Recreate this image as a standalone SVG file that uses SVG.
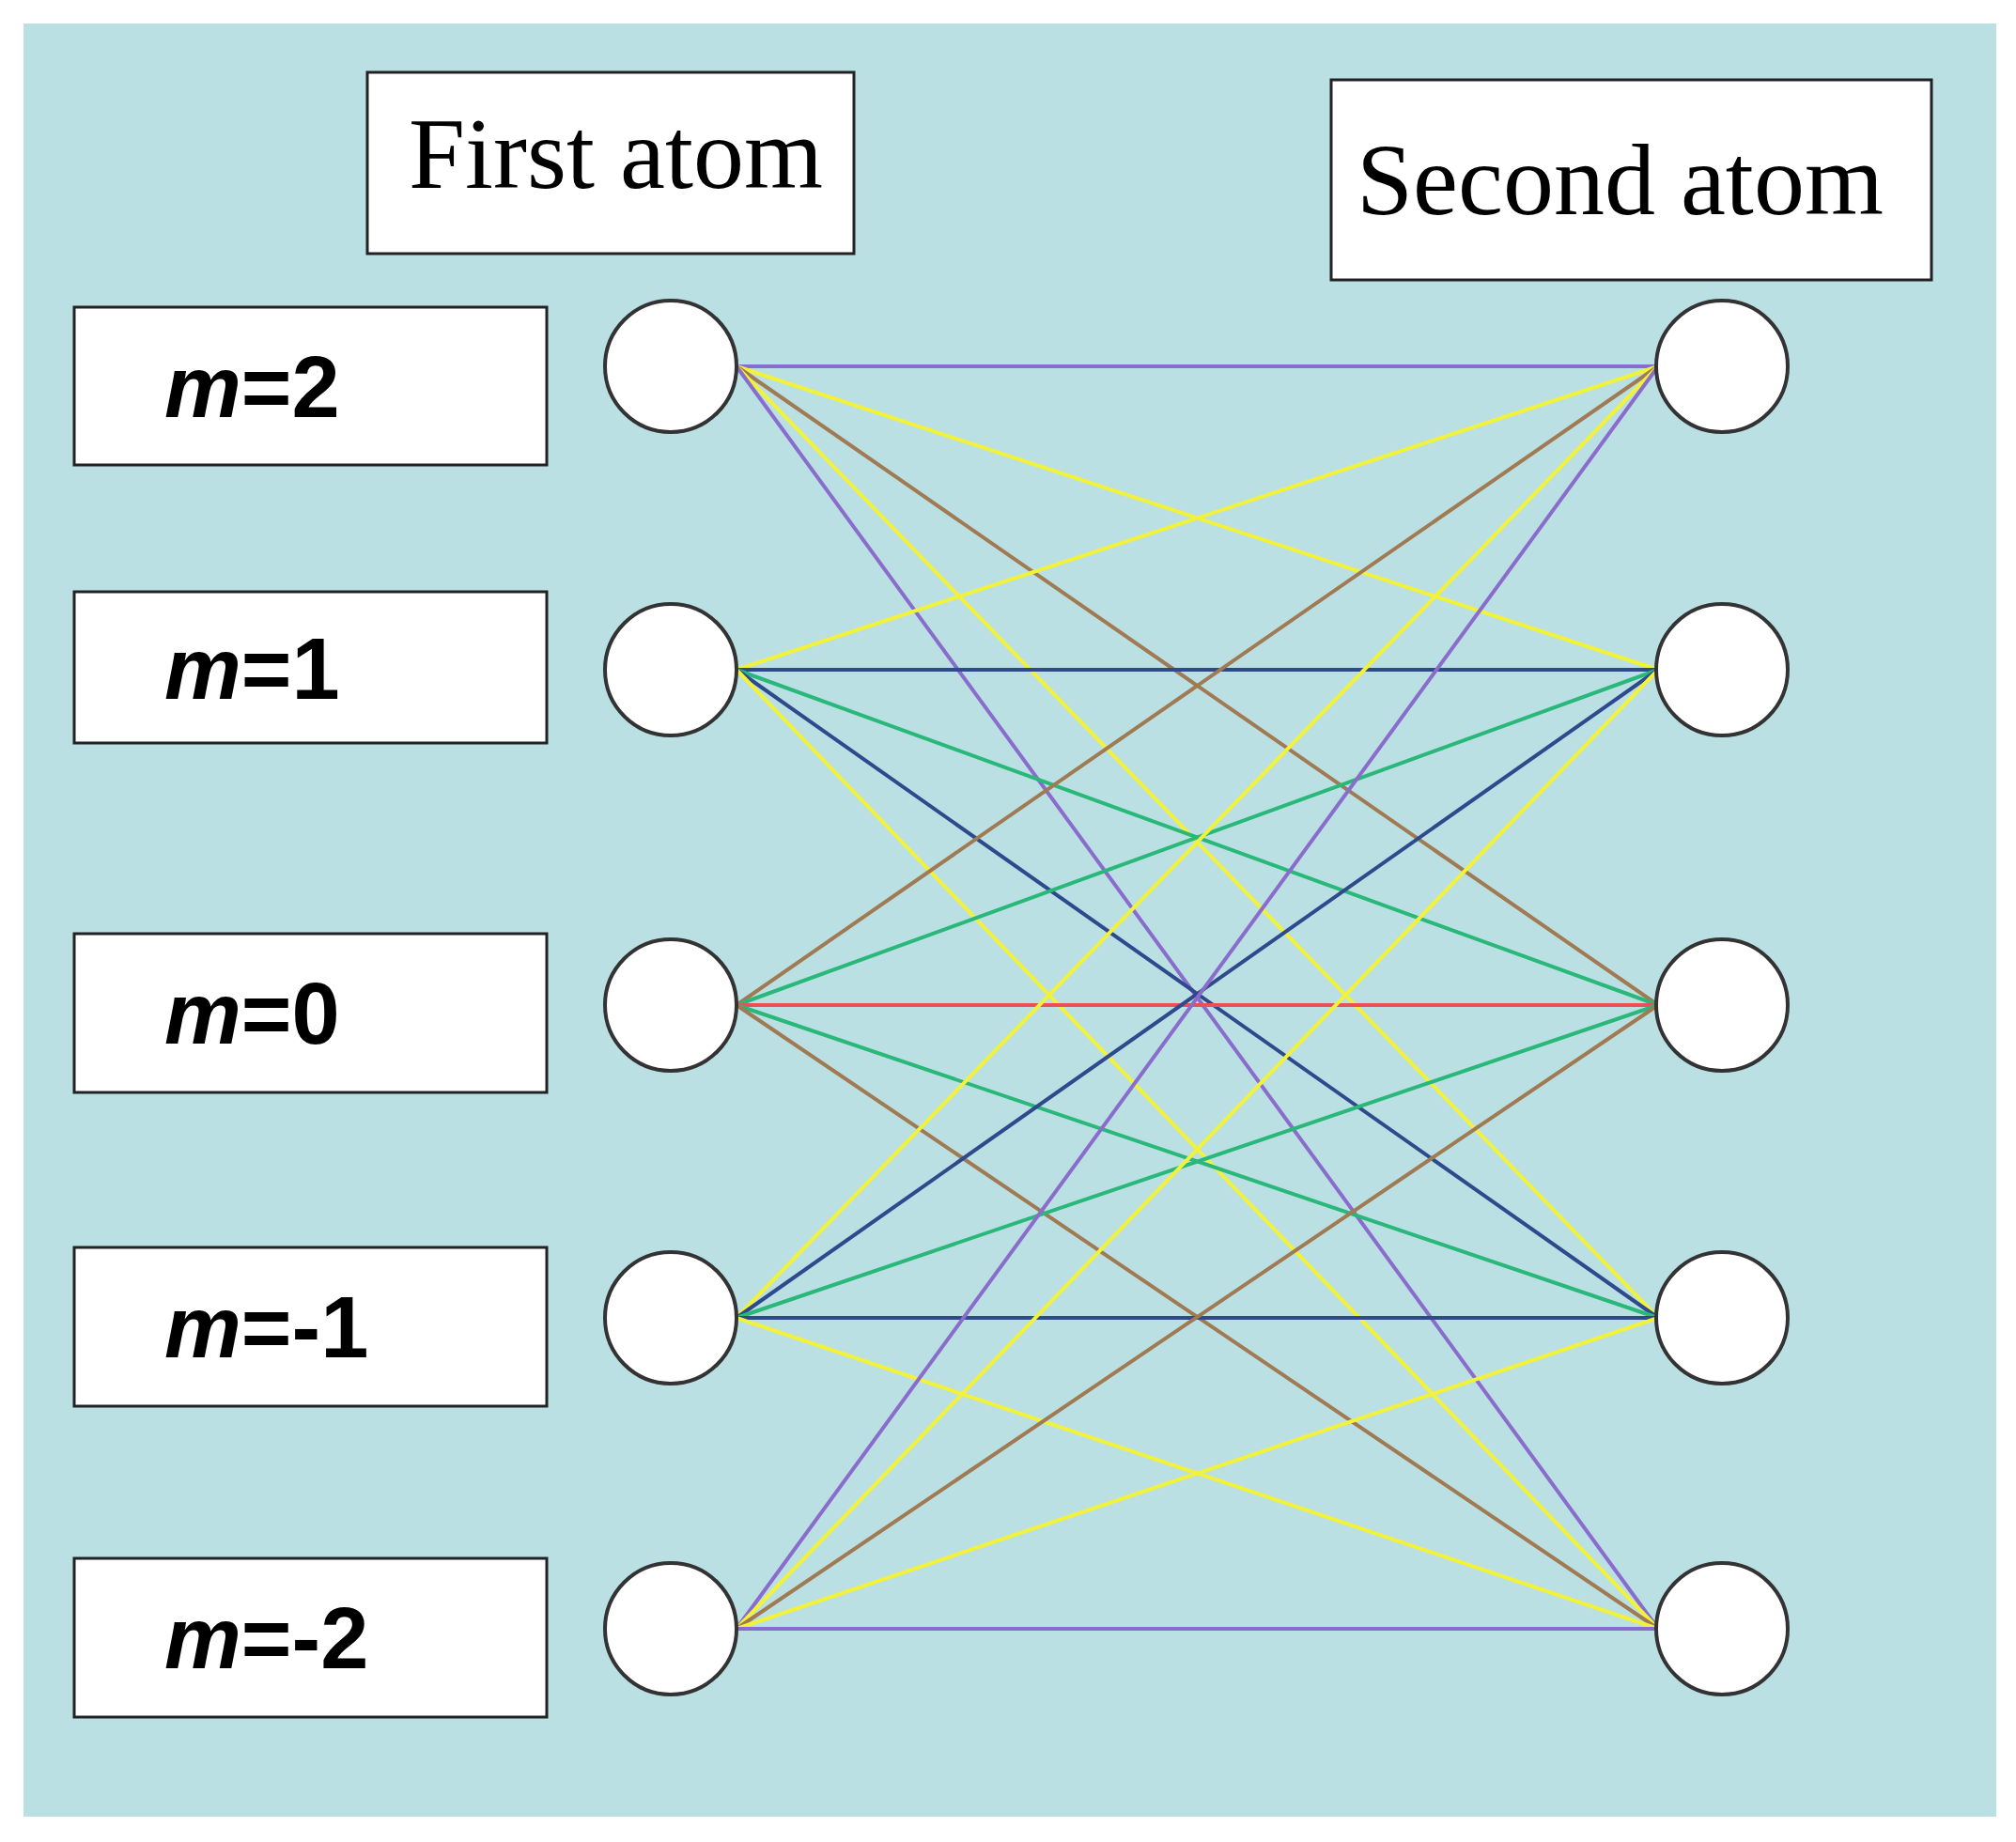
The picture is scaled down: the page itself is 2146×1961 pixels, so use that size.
<svg xmlns="http://www.w3.org/2000/svg" width="2146" height="1961" viewBox="0 0 2146 1961">
<style>
.box{fill:#fff;stroke:#222;stroke-width:3}
.node{fill:#fff;stroke:#333;stroke-width:4}
.lbl{font-family:"Liberation Sans",Arial,sans-serif;font-weight:bold;font-size:92px;fill:#000}
.ttl{font-family:"Liberation Serif","Times New Roman",serif;font-size:108px;fill:#000}
line{stroke-width:4}
.p{stroke:#8a6ccc}.y{stroke:#f2f23a}.b{stroke:#a07a52}.bl{stroke:#2e4a8c}.g{stroke:#2ab87a}.r{stroke:#ea4f5a}
</style>
<rect width="2146" height="1961" fill="#fff"/>
<rect x="25" y="25" width="2100" height="1909" fill="#bbe0e3"/>
<g id="title1"><rect class="box" x="391" y="77" width="518" height="193"/><text class="ttl" x="435" y="200">First atom</text></g>
<g id="title2"><rect class="box" x="1417" y="85" width="639" height="213"/><text class="ttl" x="1444" y="228">Second atom</text></g>
<g id="lab2"><rect class="box" x="79" y="327" width="503" height="168"/><text class="lbl" x="175" y="444"><tspan font-style="italic">m</tspan>=2</text></g>
<g id="lab1"><rect class="box" x="79" y="630" width="503" height="161"/><text class="lbl" x="175" y="744"><tspan font-style="italic">m</tspan>=1</text></g>
<g id="lab0"><rect class="box" x="79" y="994" width="503" height="169"/><text class="lbl" x="175" y="1111"><tspan font-style="italic">m</tspan>=0</text></g>
<g id="labm1"><rect class="box" x="79" y="1328" width="503" height="169"/><text class="lbl" x="175" y="1445"><tspan font-style="italic">m</tspan>=-1</text></g>
<g id="labm2"><rect class="box" x="79" y="1659" width="503" height="169"/><text class="lbl" x="175" y="1776"><tspan font-style="italic">m</tspan>=-2</text></g>
<g id="connectors">
<line class="p" x1="784" y1="390" x2="1765" y2="390"/>
<line class="y" x1="784" y1="390" x2="1765" y2="713"/>
<line class="b" x1="784" y1="390" x2="1765" y2="1070"/>
<line class="y" x1="784" y1="390" x2="1765" y2="1403"/>
<line class="p" x1="784" y1="390" x2="1765" y2="1734"/>
<line class="y" x1="784" y1="713" x2="1765" y2="390"/>
<line class="bl" x1="784" y1="713" x2="1765" y2="713"/>
<line class="g" x1="784" y1="713" x2="1765" y2="1070"/>
<line class="bl" x1="784" y1="713" x2="1765" y2="1403"/>
<line class="y" x1="784" y1="713" x2="1765" y2="1734"/>
<line class="b" x1="784" y1="1070" x2="1765" y2="390"/>
<line class="g" x1="784" y1="1070" x2="1765" y2="713"/>
<line class="r" x1="784" y1="1070" x2="1765" y2="1070"/>
<line class="g" x1="784" y1="1070" x2="1765" y2="1403"/>
<line class="b" x1="784" y1="1070" x2="1765" y2="1734"/>
<line class="y" x1="784" y1="1403" x2="1765" y2="390"/>
<line class="bl" x1="784" y1="1403" x2="1765" y2="713"/>
<line class="g" x1="784" y1="1403" x2="1765" y2="1070"/>
<line class="bl" x1="784" y1="1403" x2="1765" y2="1403"/>
<line class="y" x1="784" y1="1403" x2="1765" y2="1734"/>
<line class="p" x1="784" y1="1734" x2="1765" y2="390"/>
<line class="y" x1="784" y1="1734" x2="1765" y2="713"/>
<line class="b" x1="784" y1="1734" x2="1765" y2="1070"/>
<line class="y" x1="784" y1="1734" x2="1765" y2="1403"/>
<line class="p" x1="784" y1="1734" x2="1765" y2="1734"/>
</g>
<g id="L2"><circle class="node" cx="714" cy="390" r="70"/></g>
<g id="L1"><circle class="node" cx="714" cy="713" r="70"/></g>
<g id="L0"><circle class="node" cx="714" cy="1070" r="70"/></g>
<g id="Lm1"><circle class="node" cx="714" cy="1403" r="70"/></g>
<g id="Lm2"><circle class="node" cx="714" cy="1734" r="70"/></g>
<g id="R2"><circle class="node" cx="1833" cy="390" r="70"/></g>
<g id="R1"><circle class="node" cx="1833" cy="713" r="70"/></g>
<g id="R0"><circle class="node" cx="1833" cy="1070" r="70"/></g>
<g id="Rm1"><circle class="node" cx="1833" cy="1403" r="70"/></g>
<g id="Rm2"><circle class="node" cx="1833" cy="1734" r="70"/></g>
</svg>
